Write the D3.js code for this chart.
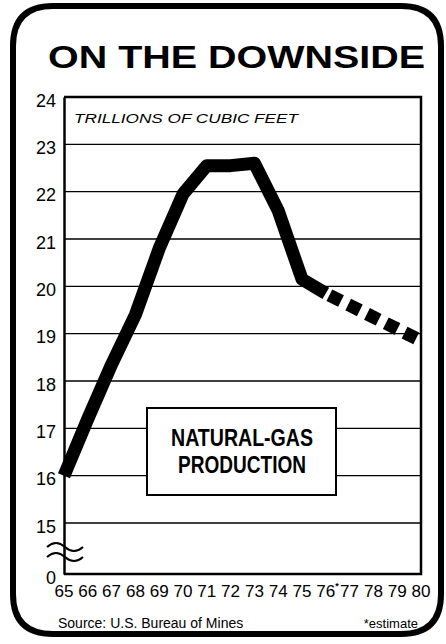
<!DOCTYPE html>
<html>
<head>
<meta charset="utf-8">
<script src="https://cdn.jsdelivr.net/npm/d3@7"></script>
<style>
  body { margin: 0; background: #fff; }
  text { font-family: "Liberation Sans", Arial, sans-serif; fill: #000; }
</style>
</head>
<body>
<svg class="chart" width="446" height="644"></svg>
<script>
// values, trillions of cubic feet
const years = [65, 66, 67, 68, 69, 70, 71, 72, 73, 74, 75, 76]
const production = [16.0, 17.2, 18.35, 19.4, 20.8, 21.95, 22.55, 22.55, 22.6, 21.6, 20.15, 19.85]
const estYears = [76, 77, 78, 79, 80]
const estimate = [19.85, 19.6, 19.35, 19.1, 18.85]
const yTicks = [0, 15, 16, 17, 18, 19, 20, 21, 22, 23, 24]
const xLabels = ["65", "66", "67", "68", "69", "70", "71", "72", "73", "74", "75", "76", "77", "78", "79", "80"]

const svg = d3.select("svg.chart")

const x = d3.scaleLinear()
    .domain([65, 80])
    .range([64, 421])

// broken axis: 0 sits right under 15
const y = d3.scaleLinear()
    .domain([0, 15, 24])
    .range([574, 523, 97])

// outer rounded frame
const r = 40, L = 13, T = 6, R = 441, B = 634
svg.append("path")
    .attr("d", `M${L},${T + r} Q${L},${T} ${L + r},${T} L${R - r},${T} Q${R},${T} ${R},${T + r} L${R},${B - r} Q${R},${B} ${R - r},${B} L${L + r},${B} Q${L},${B} ${L},${B - r} Z`)
    .attr("fill", "none")
    .attr("stroke", "#000")
    .attr("stroke-width", 6)

svg.append("text")
    .attr("x", 48)
    .attr("y", 68)
    .attr("textLength", 377)
    .attr("lengthAdjust", "spacingAndGlyphs")
    .style("font-size", "32px")
    .style("font-weight", "bold")
    .text("ON  THE  DOWNSIDE")

// grid lines
svg.append("g")
    .selectAll("line")
    .data(yTicks.filter(d => d > 0 && d < 24))
    .enter()
    .append("line")
    .attr("x1", x(65))
    .attr("x2", x(80))
    .attr("y1", d => y(d))
    .attr("y2", d => y(d))
    .attr("stroke", "#000")
    .attr("stroke-width", 1.3)

// plot frame: top, right, bottom
svg.append("path")
    .attr("d", `M${x(65)},${y(24)} L${x(80)},${y(24)} L${x(80)},${y(0)} L${x(65)},${y(0)}`)
    .attr("fill", "none")
    .attr("stroke", "#000")
    .attr("stroke-width", 2.5)

// y axis
const yAxis = svg.append("g")
    .attr("transform", "translate(" + x(65) + ",0)")
    .call(d3.axisLeft(y).tickValues(yTicks).tickSize(0).tickPadding(8).tickFormat(d3.format("d")))

yAxis.select(".domain")
    .attr("stroke", "#000")
    .attr("stroke-width", 2.5)

yAxis.selectAll("text")
    .attr("dy", "0.5em")
    .style("font-size", "18px")
    .style("font-family", "'Liberation Sans', Arial, sans-serif")

// break marks on the axis
const brk = svg.append("g")
brk.selectAll("path")
    .data([545, 555])
    .enter()
    .append("path")
    .attr("d", d => `M${x(65) - 17},${d + 2} q9,-8 18,0 q9,8 18,0`)
    .attr("fill", "none")
    .attr("stroke", "#000")
    .attr("stroke-width", 2)

// x labels
svg.append("g")
    .selectAll("text")
    .data(xLabels)
    .enter()
    .append("text")
    .attr("x", d => x(+d))
    .attr("y", 597)
    .attr("text-anchor", "middle")
    .attr("textLength", 19)
    .attr("lengthAdjust", "spacingAndGlyphs")
    .style("font-size", "17px")
    .text(d => d)

svg.append("text")
    .attr("x", x(76) + 9.5)
    .attr("y", 589)
    .style("font-size", "9px")
    .style("font-weight", "bold")
    .text("*")

svg.append("text")
    .attr("x", 74)
    .attr("y", 123)
    .style("font-size", "13px")
    .style("font-style", "italic")
    .attr("textLength", 224)
    .attr("lengthAdjust", "spacingAndGlyphs")
    .text("TRILLIONS OF CUBIC FEET")

// label box
svg.append("rect")
    .attr("x", 147)
    .attr("y", 408)
    .attr("width", 189)
    .attr("height", 87)
    .attr("fill", "#fff")
    .attr("stroke", "#000")
    .attr("stroke-width", 2)

svg.append("text")
    .attr("x", 242)
    .attr("y", 446)
    .attr("text-anchor", "middle")
    .attr("textLength", 142)
    .attr("lengthAdjust", "spacingAndGlyphs")
    .style("font-size", "24px")
    .style("font-weight", "bold")
    .text("NATURAL-GAS")

svg.append("text")
    .attr("x", 242)
    .attr("y", 473)
    .attr("text-anchor", "middle")
    .attr("textLength", 128)
    .attr("lengthAdjust", "spacingAndGlyphs")
    .style("font-size", "24px")
    .style("font-weight", "bold")
    .text("PRODUCTION")

// the series
const line = d3.line()
    .x(d => x(d[0]))
    .y(d => y(d[1]))

svg.append("path")
    .datum(d3.zip(years, production))
    .attr("d", line)
    .attr("fill", "none")
    .attr("stroke", "#000")
    .attr("stroke-width", 13)
    .attr("stroke-linejoin", "round")

svg.append("path")
    .datum(d3.zip(estYears, estimate))
    .attr("d", line)
    .attr("fill", "none")
    .attr("stroke", "#000")
    .attr("stroke-width", 13)
    .attr("stroke-dasharray", "13 8")
    .attr("stroke-dashoffset", -4)

// footer
svg.append("text")
    .attr("x", 58)
    .attr("y", 628)
    .style("font-size", "14px")
    .text("Source: U.S. Bureau of Mines")

svg.append("text")
    .attr("x", 418)
    .attr("y", 628)
    .attr("text-anchor", "end")
    .style("font-size", "13px")
    .text("*estimate")
</script>
</body>
</html>
